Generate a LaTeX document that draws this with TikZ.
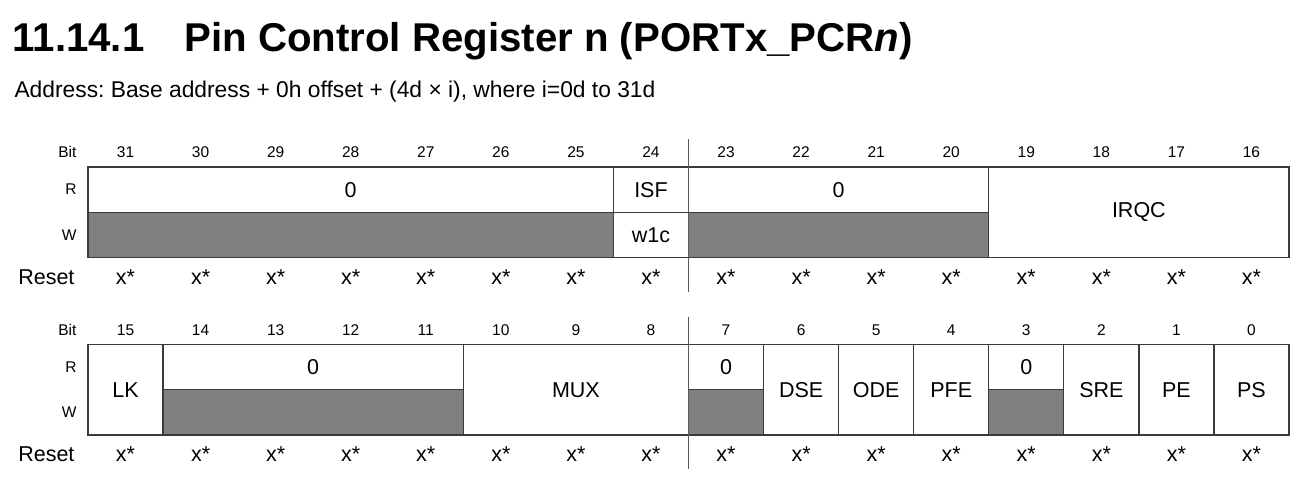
\documentclass[tikz,border=0pt]{standalone}
\usepackage{fontspec}
\setmainfont{Liberation Sans}
\frenchspacing
\definecolor{regline}{HTML}{3A3A3A}
\definecolor{wofill}{HTML}{808080}
\definecolor{sepgray}{HTML}{5A5A5A}

\begin{document}
\begin{tikzpicture}[x=1pt,y=-1pt,
  title/.style={anchor=base west,font=\fontsize{40.2}{46}\selectfont\bfseries},
  addr/.style={anchor=base west,font=\fontsize{22.8}{27}\selectfont},
  bitnum/.style={anchor=base,font=\fontsize{15.5}{18}\selectfont},
  rowlbl/.style={anchor=east,font=\fontsize{15.5}{18}\selectfont},
  resetlbl/.style={anchor=base east,font=\fontsize{21.5}{25}\selectfont},
  resetval/.style={anchor=base,font=\fontsize{21.5}{25}\selectfont},
  fieldlbl/.style={font=\fontsize{21.5}{25}\selectfont},
  box/.style={draw=regline,line width=1.3pt},
  sepline/.style={draw=sepgray,line width=1.5pt}]

\useasboundingbox (0,0) rectangle (1308,482);

% === Heading ===
\node[title] (title) at (9,51) {11.14.1\hspace{40pt}Pin Control Register n (PORTx\_PCR\textit{n})};
\node[addr] (addr) at (11,97) {Address: Base address + 0h offset + (4d × i), where i=0d to 31d};

% Register geometry (pixels, y downwards)
\def\xL{88}
\def\colW{75.0625}
\def\rowH{45.25}
\def\topA{167}
\def\topB{344.5}

% === Row labels ===
\node[rowlbl,anchor=base east] (bitA) at (80,\topA-9.5) {Bit};
\node[rowlbl] (rA) at (80,\topA+0.5*\rowH) {R};
\node[rowlbl] (wA) at (80,\topA+1.5*\rowH) {W};
\node[resetlbl] (resetA) at (78,\topA+2*\rowH+26.5) {Reset};

\node[rowlbl,anchor=base east] (bitB) at (80,\topB-9.5) {Bit};
\node[rowlbl] (rB) at (80,\topB+0.5*\rowH) {R};
\node[rowlbl] (wB) at (80,\topB+1.5*\rowH) {W};
\node[resetlbl] (resetB) at (78,\topB+2*\rowH+26.5) {Reset};

% === Bit numbers and reset values ===
\foreach \c in {0,...,15}{
  \pgfmathtruncatemacro\hibit{31-\c}
  \pgfmathtruncatemacro\lobit{15-\c}
  \node[bitnum] (numA\c) at ({\xL+(\c+0.5)*\colW},\topA-9.5) {\hibit};
  \node[bitnum] (numB\c) at ({\xL+(\c+0.5)*\colW},\topB-9.5) {\lobit};
  \node[resetval] (rstA\c) at ({\xL+(\c+0.5)*\colW},\topA+2*\rowH+26.5) {x*};
  \node[resetval] (rstB\c) at ({\xL+(\c+0.5)*\colW},\topB+2*\rowH+26.5) {x*};
}

% === Register bits 31-16 ===
% write-only-zero areas
\fill[wofill] (\xL,\topA+\rowH) rectangle (\xL+7*\colW,\topA+2*\rowH);
\fill[wofill] (\xL+8*\colW,\topA+\rowH) rectangle (\xL+12*\colW,\topA+2*\rowH);

% bits 31-25
\draw[box] (\xL,\topA) rectangle (\xL+7*\colW,\topA+\rowH);
\draw[box] (\xL,\topA+\rowH) rectangle (\xL+7*\colW,\topA+2*\rowH);
\node[fieldlbl] (resvA) at (\xL+3.5*\colW,\topA+0.5*\rowH) {0};

% bit 24
\draw[box] (\xL+7*\colW,\topA) rectangle (\xL+8*\colW,\topA+\rowH);
\draw[box] (\xL+7*\colW,\topA+\rowH) rectangle (\xL+8*\colW,\topA+2*\rowH);
\node[fieldlbl] (isf) at (\xL+7.5*\colW,\topA+0.5*\rowH) {ISF};
\node[fieldlbl] (wonec) at (\xL+7.5*\colW,\topA+1.5*\rowH) {w1c};

% bits 23-20
\draw[box] (\xL+8*\colW,\topA) rectangle (\xL+12*\colW,\topA+\rowH);
\draw[box] (\xL+8*\colW,\topA+\rowH) rectangle (\xL+12*\colW,\topA+2*\rowH);
\node[fieldlbl] (resvB) at (\xL+10*\colW,\topA+0.5*\rowH) {0};

% bits 19-16
\draw[box] (\xL+12*\colW,\topA) rectangle (\xL+16*\colW,\topA+2*\rowH);
\node[fieldlbl] (irqc) at (\xL+14*\colW,\topA+\rowH) {IRQC};

% half-word separator
\draw[sepline] (\xL+8*\colW,\topA-28) -- (\xL+8*\colW,\topA+2*\rowH+34);

% === Register bits 15-0 ===
\fill[wofill] (\xL+1*\colW,\topB+\rowH) rectangle (\xL+5*\colW,\topB+2*\rowH);
\fill[wofill] (\xL+8*\colW,\topB+\rowH) rectangle (\xL+9*\colW,\topB+2*\rowH);
\fill[wofill] (\xL+12*\colW,\topB+\rowH) rectangle (\xL+13*\colW,\topB+2*\rowH);

% bit 15
\draw[box] (\xL,\topB) rectangle (\xL+\colW,\topB+2*\rowH);
\node[fieldlbl] (lk) at (\xL+0.5*\colW,\topB+\rowH) {LK};

% bits 14-11
\draw[box] (\xL+1*\colW,\topB) rectangle (\xL+5*\colW,\topB+\rowH);
\draw[box] (\xL+1*\colW,\topB+\rowH) rectangle (\xL+5*\colW,\topB+2*\rowH);
\node[fieldlbl] (resvC) at (\xL+3*\colW,\topB+0.5*\rowH) {0};

% bits 10-8
\draw[box] (\xL+5*\colW,\topB) rectangle (\xL+8*\colW,\topB+2*\rowH);
\node[fieldlbl] (mux) at (\xL+6.5*\colW,\topB+\rowH) {MUX};

% bit 7
\draw[box] (\xL+8*\colW,\topB) rectangle (\xL+9*\colW,\topB+\rowH);
\draw[box] (\xL+8*\colW,\topB+\rowH) rectangle (\xL+9*\colW,\topB+2*\rowH);
\node[fieldlbl] (resvD) at (\xL+8.5*\colW,\topB+0.5*\rowH) {0};

% bits 6-4
\draw[box] (\xL+9*\colW,\topB) rectangle (\xL+10*\colW,\topB+2*\rowH);
\node[fieldlbl] (dse) at (\xL+9.5*\colW,\topB+\rowH) {DSE};
\draw[box] (\xL+10*\colW,\topB) rectangle (\xL+11*\colW,\topB+2*\rowH);
\node[fieldlbl] (ode) at (\xL+10.5*\colW,\topB+\rowH) {ODE};
\draw[box] (\xL+11*\colW,\topB) rectangle (\xL+12*\colW,\topB+2*\rowH);
\node[fieldlbl] (pfe) at (\xL+11.5*\colW,\topB+\rowH) {PFE};

% bit 3
\draw[box] (\xL+12*\colW,\topB) rectangle (\xL+13*\colW,\topB+\rowH);
\draw[box] (\xL+12*\colW,\topB+\rowH) rectangle (\xL+13*\colW,\topB+2*\rowH);
\node[fieldlbl] (resvE) at (\xL+12.5*\colW,\topB+0.5*\rowH) {0};

% bits 2-0
\draw[box] (\xL+13*\colW,\topB) rectangle (\xL+14*\colW,\topB+2*\rowH);
\node[fieldlbl] (sre) at (\xL+13.5*\colW,\topB+\rowH) {SRE};
\draw[box] (\xL+14*\colW,\topB) rectangle (\xL+15*\colW,\topB+2*\rowH);
\node[fieldlbl] (pe) at (\xL+14.5*\colW,\topB+\rowH) {PE};
\draw[box] (\xL+15*\colW,\topB) rectangle (\xL+16*\colW,\topB+2*\rowH);
\node[fieldlbl] (ps) at (\xL+15.5*\colW,\topB+\rowH) {PS};

% half-word separator
\draw[sepline] (\xL+8*\colW,\topB-28) -- (\xL+8*\colW,\topB+2*\rowH+34);

\end{tikzpicture}
\end{document}
